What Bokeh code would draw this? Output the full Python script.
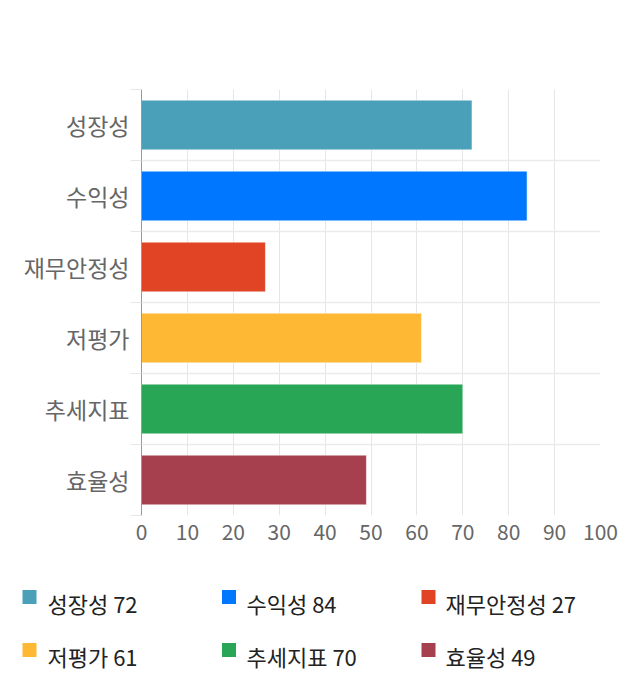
from bokeh.plotting import figure
from bokeh.models import Range1d, FixedTicker, ColumnDataSource
from bokeh.embed import file_html
from bokeh.resources import INLINE
from bokeh.core.properties import value

categories = ["성장성", "수익성", "재무안정성", "저평가", "추세지표", "효율성"]
scores = [72, 84, 27, 61, 70, 49]
colors = ["#4aa0b9", "#0077ff", "#e04424", "#ffb833", "#28a656", "#a6404e"]
x_ticks = [0, 10, 20, 30, 40, 50, 60, 70, 80, 90, 100]

FONT = "Noto Sans CJK KR"
n = len(categories)
centers = [i + 0.5 for i in range(n)]

src = ColumnDataSource(dict(y=centers, v=scores, c=colors, cat=categories))

p = figure(width=632, height=558, x_range=Range1d(0, 100), y_range=Range1d(n, 0),
           output_backend="svg", toolbar_location=None,
           min_border_left=141, min_border_right=32, min_border_top=89, min_border_bottom=43)
p.outline_line_color = None
p.background_fill_color = "white"
p.border_fill_color = "white"

p.hbar(y="y", left=0, right="v", height=0.7, fill_color="c", line_color="white",
       line_alpha=0.5, line_width=1, source=src)

# x axis
p.xaxis.ticker = FixedTicker(ticks=x_ticks)
p.xaxis.axis_line_color = None
p.xaxis.major_tick_line_color = None
p.xaxis.minor_tick_line_color = None
p.xaxis.major_label_text_color = "#666666"
p.xaxis.major_label_text_font = FONT
p.xaxis.major_label_text_font_size = "21px"
p.xaxis.major_label_standoff = 2

# y axis
p.yaxis.ticker = FixedTicker(ticks=centers, minor_ticks=list(range(n + 1)))
p.yaxis.major_label_overrides = {c: cat for c, cat in zip(centers, categories)}
p.yaxis.axis_line_color = "#999999"
p.yaxis.major_tick_line_color = None
p.yaxis.major_tick_out = 0
p.yaxis.minor_tick_out = 11
p.yaxis.minor_tick_in = 0
p.yaxis.minor_tick_line_color = "#e6e6e6"
p.yaxis.major_label_text_color = "#666666"
p.yaxis.major_label_text_font = FONT
p.yaxis.major_label_text_font_size = "23px"
p.yaxis.major_label_standoff = 1

# grids
p.xgrid.ticker = FixedTicker(ticks=x_ticks)
p.xgrid.grid_line_color = "#e6e6e6"
p.xgrid.grid_line_width = 1
p.ygrid.ticker = FixedTicker(ticks=list(range(n + 1)))
p.ygrid.grid_line_color = "#ebebeb"
p.ygrid.grid_line_width = 1.5

# legend figure (separate root, pixel coordinates)
L = figure(width=632, height=120, x_range=Range1d(0, 632), y_range=Range1d(120, 0),
           output_backend="svg", toolbar_location=None, min_border=0)
L.axis.visible = False
L.grid.visible = False
L.outline_line_color = None

cols = [i % 3 for i in range(n)]
rows = [i // 3 for i in range(n)]
sq_x = [29 + c * 199.5 for c in cols]
sq_y = [38.5 + r * 53 for r in rows]
tx_x = [47 + c * 199 for c in cols]
tx_y = [44.5 + r * 53 for r in rows]
labels = [f"{cat} {v}" for cat, v in zip(categories, scores)]
lsrc = ColumnDataSource(dict(sx=sq_x, sy=sq_y, tx=tx_x, ty=tx_y, c=colors, t=labels))
L.rect(x="sx", y="sy", width=14, height=14, fill_color="c", line_color=None, source=lsrc)
L.text(x="tx", y="ty", text="t", text_font=value(FONT), text_font_size="22px",
       text_color="#222222", text_baseline="middle", text_align="left", source=lsrc)

open("out.html", "w").write(file_html([p, L], INLINE))
